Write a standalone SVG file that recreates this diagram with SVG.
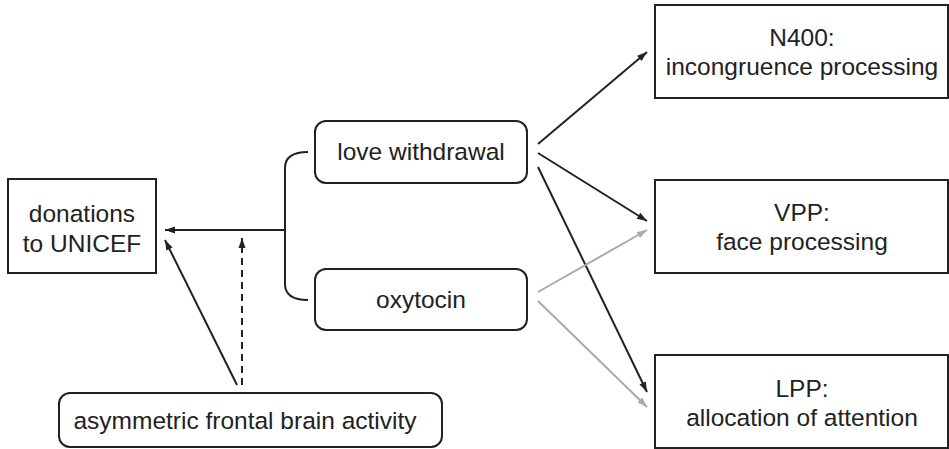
<svg xmlns="http://www.w3.org/2000/svg" width="949" height="449" viewBox="0 0 949 449">
<defs>
<style>
.box{fill:#fff;stroke:#222;stroke-width:2}
.t{font-family:"Liberation Sans",Arial,sans-serif;font-size:24.5px;fill:#222;text-anchor:middle}
.c{fill:none;stroke:#222;stroke-width:2}
.g{fill:none;stroke:#aaa;stroke-width:2}
</style>
<marker id="ah" viewBox="0 0 10 8" refX="10" refY="4" markerWidth="11" markerHeight="8" orient="auto" markerUnits="userSpaceOnUse"><path d="M0,0.5 L10,4 L0,7.5 z" fill="#222"/></marker>
<marker id="ag" viewBox="0 0 10 8" refX="10" refY="4" markerWidth="11" markerHeight="8" orient="auto" markerUnits="userSpaceOnUse"><path d="M0,0.5 L10,4 L0,7.5 z" fill="#aaa"/></marker>
</defs>
<rect width="949" height="449" fill="#fff"/>
<g id="connectors">
<path class="c" d="M308,152 Q285,152 285,168 L285,284 Q285,300 308,300"/>
<line class="c" x1="285" y1="230" x2="165" y2="230" marker-end="url(#ah)"/>
<line class="c" x1="237" y1="385" x2="165" y2="240" marker-end="url(#ah)"/>
<line class="c" x1="242" y1="385" x2="242" y2="238" stroke-dasharray="7,5" marker-end="url(#ah)"/>
<line class="c" x1="538" y1="144" x2="647" y2="52" marker-end="url(#ah)"/>
<line class="c" x1="538" y1="153" x2="647" y2="221" marker-end="url(#ah)"/>
<line class="c" x1="538" y1="167" x2="647" y2="392" marker-end="url(#ah)"/>
<line class="g" x1="538" y1="292" x2="647" y2="230" marker-end="url(#ag)"/>
<line class="g" x1="538" y1="301" x2="647" y2="407" marker-end="url(#ag)"/>
</g>
<g id="donations">
<rect class="box" x="8" y="179" width="148" height="94"/>
<text class="t" x="82" y="222">donations</text>
<text class="t" x="82" y="252">to UNICEF</text>
</g>
<g id="love">
<rect class="box" x="315" y="121" width="212" height="62" rx="11"/>
<text class="t" x="421" y="160">love withdrawal</text>
</g>
<g id="oxytocin">
<rect class="box" x="315" y="269" width="212" height="61" rx="11"/>
<text class="t" x="421" y="308">oxytocin</text>
</g>
<g id="asym">
<rect class="box" x="59" y="393" width="383" height="54" rx="11"/>
<text class="t" x="245" y="429">asymmetric frontal brain activity</text>
</g>
<g id="n400">
<rect class="box" x="655" y="5" width="293" height="93"/>
<text class="t" x="802" y="46">N400:</text>
<text class="t" x="802" y="75">incongruence processing</text>
</g>
<g id="vpp">
<rect class="box" x="655" y="180" width="293" height="93"/>
<text class="t" x="802" y="221">VPP:</text>
<text class="t" x="802" y="250">face processing</text>
</g>
<g id="lpp">
<rect class="box" x="655" y="355" width="293" height="93"/>
<text class="t" x="802" y="397">LPP:</text>
<text class="t" x="802" y="426">allocation of attention</text>
</g>
</svg>
